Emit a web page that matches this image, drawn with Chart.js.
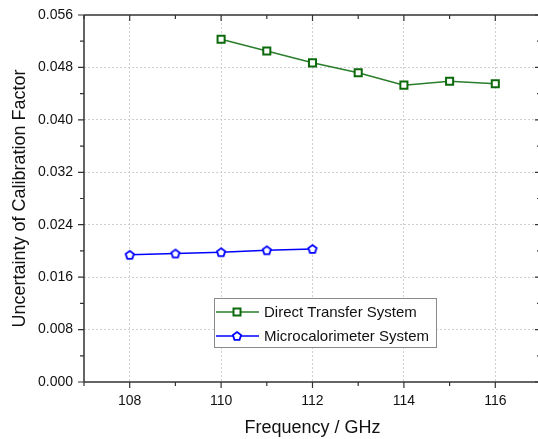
<!DOCTYPE html>
<html><head><meta charset="utf-8">
<script src="https://cdn.jsdelivr.net/npm/chart.js@4/dist/chart.umd.min.js"></script>
<style>html,body{margin:0;padding:0;overflow:hidden;background:#fff;width:538px;height:439px}canvas{display:block}</style>
</head><body>
<canvas id="c" width="550" height="439"></canvas>
<script>
const freqDirect = [110, 111, 112, 113, 114, 115, 116];
const directTransfer = [0.0523, 0.0505, 0.0487, 0.0472, 0.0453, 0.0459, 0.0455];
const freqMicro = [108, 109, 110, 111, 112];
const microcalorimeter = [0.0194, 0.0196, 0.0198, 0.0201, 0.0203];
const xTicks = [108, 110, 112, 114, 116];
const yTicks = [0, 0.008, 0.016, 0.024, 0.032, 0.040, 0.048, 0.056];
const seriesNames = ['Direct Transfer System', 'Microcalorimeter System'];
const xTitle = 'Frequency / GHz';
const yTitle = 'Uncertainty of Calibration Factor';

const GREEN_LINE = '#2a7d2a', GREEN_MK = '#0c6a0c', BLUE = '#0000ff';
const FONT = "'Liberation Sans', Arial, sans-serif";

function pentagon(color) {
  const c = document.createElement('canvas');
  c.width = 12; c.height = 12;
  const g = c.getContext('2d');
  g.beginPath();
  for (let k = 0; k < 5; k++) {
    const a = -Math.PI / 2 + k * 2 * Math.PI / 5;
    const x = 6 + 4.3 * Math.cos(a), y = 6.3 + 4.3 * Math.sin(a);
    k ? g.lineTo(x, y) : g.moveTo(x, y);
  }
  g.closePath();
  g.fillStyle = '#fff'; g.fill();
  g.lineWidth = 1.8; g.strokeStyle = color; g.stroke();
  return c;
}
const penta = pentagon(BLUE);

const framePlugin = {
  id: 'frame',
  afterDraw(chart) {
    const {ctx, chartArea: a, scales: {x, y}} = chart;
    ctx.save();
    ctx.strokeStyle = '#333'; ctx.lineWidth = 1.5;
    ctx.beginPath();
    ctx.moveTo(a.left, a.bottom); ctx.lineTo(a.right, a.bottom);
    ctx.moveTo(a.left, a.top); ctx.lineTo(a.right, a.top);
    ctx.moveTo(a.left, a.top); ctx.lineTo(a.left, a.bottom);
    ctx.moveTo(a.right, a.top); ctx.lineTo(a.right, a.bottom);
    ctx.stroke();
    ctx.lineWidth = 1.2;
    ctx.beginPath();
    for (let v = 107; v <= 117; v++) {
      const px = x.getPixelForValue(v);
      const major = v % 2 === 0;
      const lo = major ? 6 : 4, li = major ? 6 : 4;
      ctx.moveTo(px, a.bottom); ctx.lineTo(px, a.bottom + lo);
      ctx.moveTo(px, a.top); ctx.lineTo(px, a.top + li);
    }
    for (let i = 0; i <= 14; i++) {
      const py = y.getPixelForValue(i * 0.004);
      const major = i % 2 === 0;
      const lo = major ? 6 : 4, li = major ? 6 : 4;
      ctx.moveTo(a.left, py); ctx.lineTo(a.left - lo, py);
      ctx.moveTo(a.right, py); ctx.lineTo(a.right - li, py);
    }
    ctx.stroke();

    // legend
    const bx = 214, by = 298, bw = 222, bh = 49;
    ctx.fillStyle = '#fff';
    ctx.fillRect(bx, by, bw, bh);
    ctx.strokeStyle = '#8a8a8a'; ctx.lineWidth = 1;
    ctx.strokeRect(bx + 0.5, by + 0.5, bw, bh);
    const ds = chart.data.datasets;
    const rows = [by + 14, by + 38];
    ds.forEach((d, i) => {
      const ry = rows[i];
      ctx.strokeStyle = d.borderColor; ctx.lineWidth = 1.5;
      ctx.beginPath(); ctx.moveTo(216, ry); ctx.lineTo(259, ry); ctx.stroke();
      const mx = 237;
      if (i === 0) {
        ctx.fillStyle = '#fff'; ctx.fillRect(mx - 3.5, ry - 3.5, 7, 7);
        ctx.strokeStyle = GREEN_MK; ctx.lineWidth = 2;
        ctx.strokeRect(mx - 3.5, ry - 3.5, 7, 7);
      } else {
        ctx.drawImage(penta, mx - 6, ry - 6);
      }
      ctx.fillStyle = '#111';
      ctx.font = '15px ' + FONT;
      ctx.textBaseline = 'middle'; ctx.textAlign = 'left';
      ctx.fillText(d.label, 264, ry + 1);
    });
    ctx.restore();
  }
};

new Chart(document.getElementById('c'), {
  type: 'line',
  data: {
    datasets: [
      {
        label: seriesNames[0],
        data: freqDirect.map((f, i) => ({x: f, y: directTransfer[i]})),
        borderColor: GREEN_LINE, borderWidth: 1.5,
        pointStyle: 'rect', pointRadius: 5, pointBorderWidth: 2,
        pointBorderColor: GREEN_MK, pointBackgroundColor: '#fff',
        tension: 0
      },
      {
        label: seriesNames[1],
        data: freqMicro.map((f, i) => ({x: f, y: microcalorimeter[i]})),
        borderColor: BLUE, borderWidth: 1.5,
        pointStyle: penta, pointRadius: 5,
        tension: 0
      }
    ]
  },
  options: {
    responsive: false, animation: false,
    layout: {padding: {top: 15, right: 9, left: 0, bottom: 0}},
    plugins: {legend: {display: false}, tooltip: {enabled: false}},
    scales: {
      x: {
        type: 'linear', min: 107, max: 117,
        afterBuildTicks(s) { s.ticks = xTicks.map(v => ({value: v})); },
        afterFit(s) { s.height = 57; s.paddingLeft = 0; s.paddingRight = 0; },
        grid: {color: '#cfcfcf', drawTicks: false, lineWidth: 1},
        border: {display: false, dash: [2, 2]},
        ticks: {padding: 11, color: '#111', font: {family: FONT, size: 14},
          callback: v => String(v)},
        title: {display: true, text: xTitle, color: '#111', font: {family: FONT, size: 18}, padding: {top: 0, bottom: 0}}
      },
      y: {
        type: 'linear', min: 0, max: 0.056,
        afterBuildTicks(s) { s.ticks = yTicks.map(v => ({value: v})); },
        afterFit(s) { s.width = 84; s.paddingTop = 0; s.paddingBottom = 0; },
        grid: {color: ctx => (ctx.tick && ctx.tick.value > 0.0001 && ctx.tick.value < 0.0555) ? '#cfcfcf' : 'rgba(0,0,0,0)', drawTicks: false, lineWidth: 1},
        border: {display: false, dash: [2, 2]},
        ticks: {padding: 11, color: '#111', font: {family: FONT, size: 14},
          callback: v => Number(v).toFixed(3)},
        title: {display: true, text: yTitle, color: '#111', font: {family: FONT, size: 18}, padding: {top: 9, bottom: 0}}
      }
    }
  },
  plugins: [framePlugin]
});
</script>
</body></html>
